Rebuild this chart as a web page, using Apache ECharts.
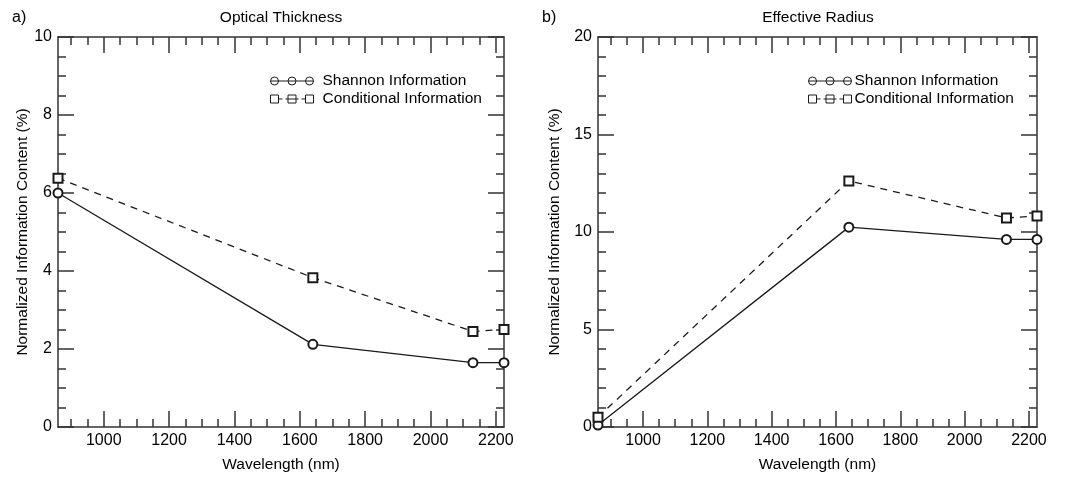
<!DOCTYPE html>
<html>
<head>
<meta charset="utf-8">
<script src="https://cdn.jsdelivr.net/npm/echarts@6/dist/echarts.min.js"></script>
<style>html,body{margin:0;padding:0;background:#fff}#c{width:1087px;height:478px}</style>
</head>
<body>
<div id="c"></div>
<script>
// ---- data ----
var wavelengths = [860, 1640, 2130, 2225];
var tauShannon = [6.0, 2.12, 1.65, 1.65];
var tauConditional = [6.38, 3.83, 2.45, 2.5];
var reShannon = [0.1, 10.25, 9.62, 9.62];
var reConditional = [0.5, 12.62, 10.72, 10.82];
var xMajorTicks = [1000, 1200, 1400, 1600, 1800, 2000, 2200];
var xMinorTicks = [900, 950, 1050, 1100, 1150, 1250, 1300, 1350, 1450, 1500, 1550, 1650, 1700, 1750, 1850, 1900, 1950, 2050, 2100, 2150];
var panelTitles = ['Optical Thickness', 'Effective Radius'];
var panelTags = ['a)', 'b)'];
var seriesNames = ['Shannon Information', 'Conditional Information'];
var xName = 'Wavelength (nm)';
var yName = 'Normalized Information Content (%)';
var yMax = [10, 20];
var yStep = [2, 5];
var yMinorSplit = [4, 5];
var xMin = 860, xMax = 2225;

function pairs(xs, ys) { return xs.map(function (x, i) { return [x, ys[i]]; }); }

var FONT = '"Liberation Sans", Arial, Helvetica, sans-serif';
var AX = '#333';
var TXT = '#000';
var grids = [
  { left: 58, right: 583, top: 37, bottom: 47 },
  { left: 598, right: 50, top: 37, bottom: 47 }
];

var xAxes = [], yAxes = [];
grids.forEach(function (g, gi) {
  var base = { type: 'value', gridIndex: gi, min: xMin, max: xMax, splitLine: { show: false } };
  xAxes.push(Object.assign({}, base, {
    position: 'bottom',
    axisLine: { show: true, onZero: false, lineStyle: { color: AX, width: 1.5 } },
    axisTick: { show: true, inside: true, length: 16, customValues: xMajorTicks, lineStyle: { color: AX, width: 1.5 } },
    axisLabel: { customValues: xMajorTicks, fontSize: 16, color: TXT, margin: 6, fontFamily: FONT,
      formatter: function (v) { return String(v); } },
    name: xName, nameLocation: 'middle', nameGap: 30,
    nameTextStyle: { fontSize: 15.5, color: TXT, fontFamily: FONT }
  }));
  xAxes.push(Object.assign({}, base, {
    position: 'bottom',
    axisLine: { show: false, onZero: false },
    axisTick: { show: true, inside: true, length: 8, customValues: xMinorTicks, lineStyle: { color: AX, width: 1.5 } },
    axisLabel: { show: false }
  }));
  xAxes.push(Object.assign({}, base, {
    position: 'top',
    axisLine: { show: true, onZero: false, lineStyle: { color: AX, width: 1.5 } },
    axisTick: { show: true, inside: true, length: 16, customValues: xMajorTicks, lineStyle: { color: AX, width: 1.5 } },
    axisLabel: { show: false }
  }));
  xAxes.push(Object.assign({}, base, {
    position: 'top',
    axisLine: { show: false, onZero: false },
    axisTick: { show: true, inside: true, length: 8, customValues: xMinorTicks, lineStyle: { color: AX, width: 1.5 } },
    axisLabel: { show: false }
  }));
  var ybase = { type: 'value', gridIndex: gi, min: 0, max: yMax[gi], interval: yStep[gi], splitLine: { show: false },
    axisLine: { show: true, onZero: false, lineStyle: { color: AX, width: 1.5 } },
    axisTick: { show: true, inside: true, length: 16, lineStyle: { color: AX, width: 1.5 } },
    minorTick: { show: true, splitNumber: yMinorSplit[gi], length: 8, lineStyle: { color: AX, width: 1.5 } } };
  yAxes.push(Object.assign({}, ybase, {
    position: 'left',
    axisLabel: { fontSize: 16, color: TXT, margin: 6, fontFamily: FONT },
    name: yName, nameLocation: 'middle', nameGap: gi === 0 ? 27 : 35,
    nameTextStyle: { fontSize: 15.5, color: TXT, fontFamily: FONT }
  }));
  yAxes.push(Object.assign({}, ybase, {
    position: 'right',
    axisLabel: { show: false }
  }));
});

var shannonIcon = 'path://M0 5L43 5M0 5A4 4 0 1 0 8 5A4 4 0 1 0 0 5ZM17.5 5A4 4 0 1 0 25.5 5A4 4 0 1 0 17.5 5ZM35 5A4 4 0 1 0 43 5A4 4 0 1 0 35 5Z';
var condIcon = 'path://M0 1L8 1L8 9L0 9ZM8 5L12 5M17.5 1L25.5 1L25.5 9L17.5 9ZM15 5L28 5M35 1L43 1L43 9L35 9ZM31 5L35 5';

var lineColor = '#1a1a1a';
function mkSeries(gi, name, ys, dashed) {
  return {
    type: 'line', name: name, xAxisIndex: gi * 4, yAxisIndex: gi * 2,
    data: pairs(wavelengths, ys),
    symbol: dashed ? 'emptyRect' : 'emptyCircle', symbolSize: 9,
    color: lineColor,
    itemStyle: { color: lineColor, borderColor: lineColor, borderWidth: 0.8 },
    lineStyle: { color: lineColor, width: 1.3, type: dashed ? [7, 6] : 'solid' },
    animation: false, clip: true
  };
}

function mkLegend(left, textGap) {
  return {
    orient: 'vertical', left: left, top: 67, itemWidth: 43, itemHeight: 10, itemGap: 0,
    selectedMode: false,
    textStyle: { fontSize: 15.5, color: TXT, fontFamily: FONT, lineHeight: 18, padding: [0, 0, 0, textGap] },
    itemStyle: { color: 'rgba(0,0,0,0)', borderColor: lineColor, borderWidth: 1 },
    data: [{ name: seriesNames[0], icon: shannonIcon }, { name: seriesNames[1], icon: condIcon }]
  };
}

var option = {
  backgroundColor: '#fff',
  animation: false,
  grid: grids,
  xAxis: xAxes,
  yAxis: yAxes,
  legend: [mkLegend(265, 4), mkLegend(803, -2)],
  graphic: [
    { type: 'text', left: 12, top: 10, style: { text: panelTags[0], fontSize: 16, fill: TXT, fontFamily: FONT } },
    { type: 'text', left: 542, top: 10, style: { text: panelTags[1], fontSize: 16, fill: TXT, fontFamily: FONT } },
    { type: 'text', x: 281, y: 10, style: { text: panelTitles[0], fontSize: 15.5, fill: TXT, fontFamily: FONT, align: 'center' } },
    { type: 'text', x: 818, y: 10, style: { text: panelTitles[1], fontSize: 15.5, fill: TXT, fontFamily: FONT, align: 'center' } }
  ],
  series: [
    mkSeries(0, seriesNames[0], tauShannon, false),
    mkSeries(0, seriesNames[1], tauConditional, true),
    mkSeries(1, seriesNames[0], reShannon, false),
    mkSeries(1, seriesNames[1], reConditional, true)
  ]
};
var chart = echarts.init(document.getElementById('c'), null, { renderer: 'canvas' });
chart.setOption(option);
</script>
</body>
</html>
